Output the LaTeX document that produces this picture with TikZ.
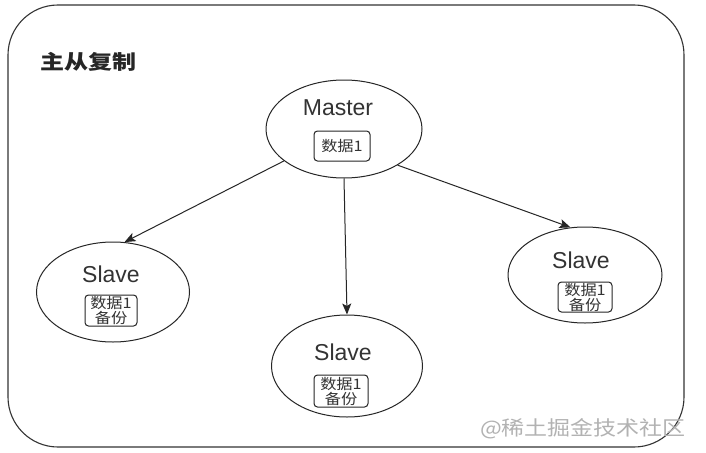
\documentclass[tikz,border=0pt]{standalone}
\usepackage{fontspec}
\usepackage{graphicx}
\setmainfont{Liberation Sans}
\newfontfamily\cjk{Noto Sans CJK SC}
\usetikzlibrary{arrows.meta,shapes.geometric}
\newcommand\widen[1]{\scalebox{1.12}[1]{#1}}
\begin{document}
\begin{tikzpicture}[x=1pt,y=-1pt,
  line width=1pt,
  frame/.style={draw=black!80, line width=1.1pt, rounded corners=50pt, minimum width=676pt, minimum height=442pt, inner sep=0pt},
  ell/.style={draw=black!85, ellipse, inner sep=0pt, line width=1pt},
  lbl/.style={text=black!80, font=\fontsize{23}{25}\selectfont, inner sep=0pt},
  databox/.style={draw=black!85, rounded corners=3.5pt, line width=1pt, inner sep=0pt, align=center, text=black!80, font=\cjk\fontsize{14.5}{15}\selectfont},
  conn/.style={draw=black!85, line width=1pt, -{Stealth[length=11pt,width=9pt,inset=2.5pt]}}
]
\useasboundingbox (0,0) rectangle (706,452);
\fill[white] (0,0) rectangle (706,452);

\node[frame] (frame) at (346,226) {};
\node[text=black!85, inner sep=0pt, font=\cjk\bfseries\fontsize{20}{22}\selectfont] (title) at (88,62) {\scalebox{1.2}[1]{主从复制}};

% Master
\node[ell, minimum width=156pt, minimum height=98pt] (m) at (344,129) {};
\node[lbl] (mlbl) at (338,108) {Master};
\node[databox, minimum width=56pt, minimum height=30pt] (mbox) at (342,146) {\widen{数据1}};

% Left slave
\node[ell, minimum width=153pt, minimum height=100pt] (s1) at (113,292) {};
\node[lbl] (s1lbl) at (111,274) {Slave};
\node[databox, minimum width=52pt, minimum height=31pt] (s1box) at (111,310.5) {\widen{数据1}\\\widen{备份}};

% Bottom slave
\node[ell, minimum width=151pt, minimum height=102pt] (s2) at (347,366) {};
\node[lbl] (s2lbl) at (343,352) {Slave};
\node[databox, minimum width=54pt, minimum height=32pt] (s2box) at (341,391) {\widen{数据1}\\\widen{备份}};

% Right slave
\node[ell, minimum width=154pt, minimum height=96pt] (s3) at (585,275) {};
\node[lbl] (s3lbl) at (581,260) {Slave};
\node[databox, minimum width=54pt, minimum height=30pt] (s3box) at (585,297) {\widen{数据1}\\\widen{备份}};

% Connectors
\draw[conn] (m.208) -- (s1.77);
\draw[conn] (m.south) -- (s2.north);
\draw[conn] (m.326) -- (s3.107);

% Watermark
\node[text=black!30, inner sep=0pt, font=\cjk\fontsize{20}{22}\selectfont] (wm) at (583,429) {\scalebox{1.15}[1]{@稀土掘金技术社区}};
\end{tikzpicture}
\end{document}
